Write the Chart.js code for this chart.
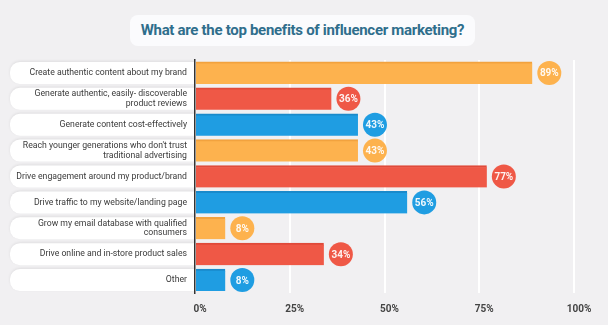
<!DOCTYPE html>
<html lang="en">
<head>
    <meta charset="UTF-8">
    <title>Influencer marketing benefits</title>
    <script src="https://cdn.jsdelivr.net/npm/chart.js"></script>
    <style>
        body {
            margin: 0;
            background-color: #f1f0f2;
            font-family: Roboto, "Open Sans", sans-serif;
        }
        .title {
            position: absolute;
            left: 130px;
            top: 15px;
            width: 345px;
            height: 31px;
            line-height: 31px;
            background: #fbfbfd;
            border-radius: 8px;
            text-align: center;
            color: #2f6e8c;
            font-weight: bold;
            font-size: 15px;
            letter-spacing: -0.3px;
            z-index: 2;
        }
        #wrap {
            position: absolute;
            left: 0;
            top: 0;
            width: 608px;
            height: 325px;
        }
    </style>
</head>
<body>
    <div class="title">What are the top benefits of influencer marketing?</div>
    <div id="wrap"><canvas id="grafico"></canvas></div>

    <script>
        // categorias y valores
        const categorias = [
            'Create authentic content about my brand',
            ['Generate authentic, easily- discoverable', 'product reviews'],
            'Generate content cost-effectively',
            ['Reach younger generations who don\'t trust', 'traditional advertising'],
            'Drive engagement around my product/brand',
            'Drive traffic to my website/landing page',
            ['Grow my email database with qualified', 'consumers'],
            'Drive online and in-store product sales',
            'Other'
        ];
        const valores = [89, 36, 43, 43, 77, 56, 8, 34, 8];
        const ticksX = [0, 25, 50, 75, 100];

        const naranja = '#fdb24e';
        const rojo = '#ef5846';
        const azul = '#1f9de2';
        const colores = [naranja, rojo, azul, naranja, rojo, azul, naranja, rojo, azul];
        const bordes = { '#fdb24e': '#f2a23e', '#ef5846': '#e04a3a', '#1f9de2': '#1a8acb' };

        // fondos blancos de las etiquetas
        const pastillas = {
            id: 'pastillas',
            beforeDraw(chart) {
                const ctx = chart.ctx;
                const y = chart.scales.y;
                const der = chart.chartArea.left;
                ctx.save();
                categorias.forEach((c, i) => {
                    const cy = y.getPixelForTick(i);
                    ctx.shadowColor = 'rgba(0,0,0,0.08)';
                    ctx.shadowBlur = 3;
                    ctx.shadowOffsetY = -1;
                    ctx.fillStyle = '#ffffff';
                    ctx.beginPath();
                    ctx.roundRect(10, cy - 11, der - 10, 22, [10, 0, 0, 10]);
                    ctx.fill();
                });
                ctx.restore();
            }
        };

        // circulos con el porcentaje
        const circulos = {
            id: 'circulos',
            afterDatasetsDraw(chart) {
                const ctx = chart.ctx;
                const meta = chart.getDatasetMeta(0);
                ctx.save();
                meta.data.forEach((bar, i) => {
                    const cx = bar.x + 17;
                    ctx.fillStyle = colores[i];
                    ctx.beginPath();
                    ctx.arc(cx, bar.y, 12, 0, Math.PI * 2);
                    ctx.fill();
                    ctx.fillStyle = 'rgba(255,255,255,0.92)';
                    ctx.font = 'bold 10px Roboto, sans-serif';
                    ctx.textAlign = 'center';
                    ctx.textBaseline = 'middle';
                    ctx.fillText(valores[i] + '%', cx, bar.y + 1);
                });
                ctx.restore();
            }
        };

        new Chart(document.getElementById('grafico'), {
            type: 'bar',
            data: {
                labels: categorias,
                datasets: [{
                    data: valores,
                    backgroundColor: colores,
                    borderColor: colores.map(c => bordes[c]),
                    borderWidth: { top: 2, left: 0, right: 0, bottom: 0 },
                    borderSkipped: false,
                    barThickness: 22
                }]
            },
            options: {
                indexAxis: 'y',
                responsive: true,
                maintainAspectRatio: false,
                animation: false,
                layout: { padding: { top: 60, left: 10, right: 34, bottom: 0 } },
                plugins: {
                    legend: { display: false },
                    tooltip: { enabled: false }
                },
                scales: {
                    x: {
                        min: 0,
                        max: 100,
                        afterBuildTicks(scale) {
                            scale.ticks = ticksX.map(v => ({ value: v }));
                        },
                        afterFit(scale) { scale.height = 32; },
                        grid: { color: '#ffffff', lineWidth: 2, drawTicks: false },
                        border: { display: false },
                        ticks: {
                            callback: v => v + '%',
                            color: '#444444',
                            font: { family: 'Roboto', size: 10, weight: 'bold' },
                            padding: 10,
                            labelOffset: 5
                        }
                    },
                    y: {
                        grid: { display: false, drawTicks: false },
                        border: { display: true, color: '#333333', width: 1.5 },
                        afterFit(scale) { scale.width = 185; },
                        ticks: {
                            color: '#3a3a3a',
                            font: { family: 'Roboto', size: 8.7, lineHeight: 1.1 },
                            padding: 8
                        }
                    }
                }
            },
            plugins: [pastillas, circulos]
        });
    </script>
</body>
</html>
